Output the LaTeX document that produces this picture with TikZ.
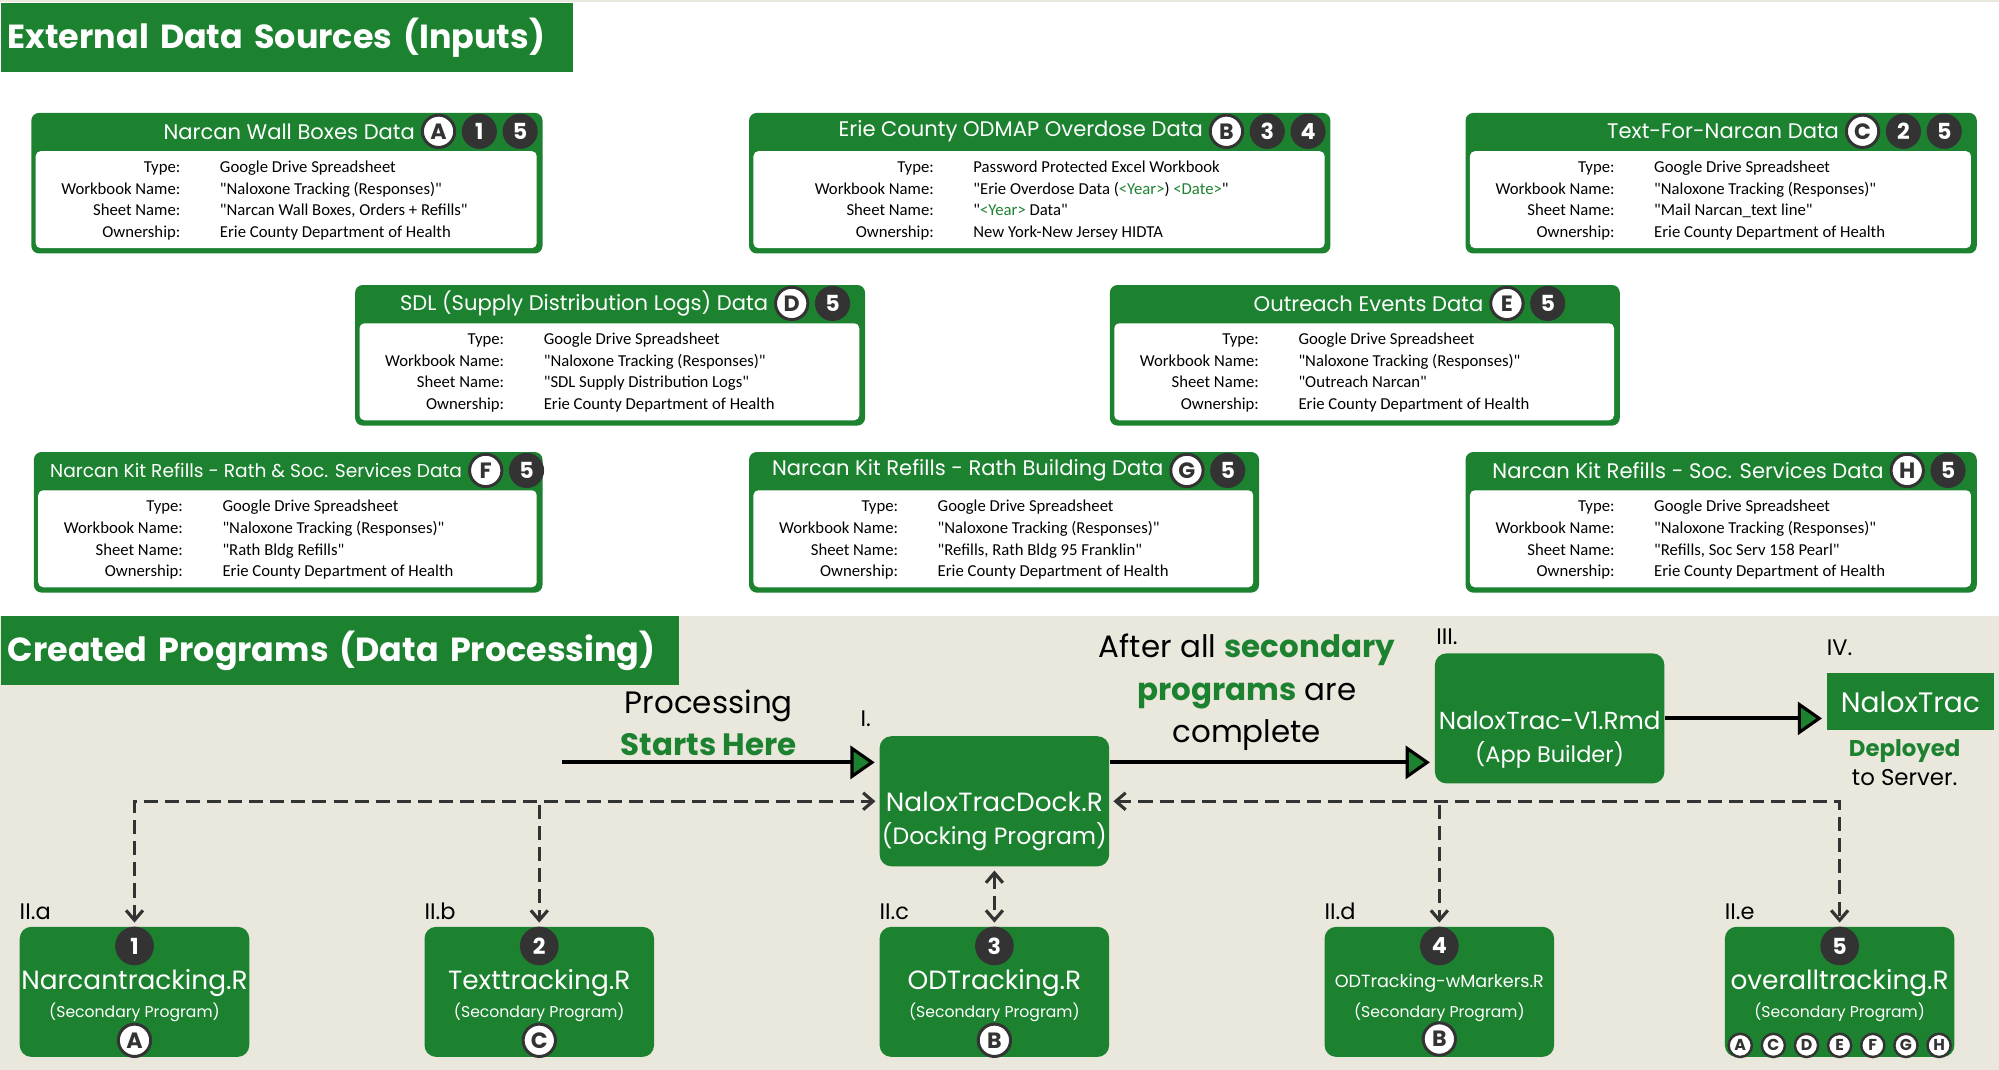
\documentclass[tikz,border=0pt]{standalone}
\usepackage{fontspec}
\setmainfont{Poppins}
\newfontfamily\sheetfont{Carlito}
\usepackage{xcolor}
\usepackage{tikz}
\usetikzlibrary{arrows.meta,positioning}

\definecolor{nxgreen}{HTML}{1C8230}
\definecolor{nxdark}{HTML}{333333}
\definecolor{nxbeige}{HTML}{EAE7DC}

% one picture unit = one pixel of the sketch
\newcommand{\pxu}{0.3627pt}

% input sheet card: [label column] name, corner, width, letter x, title, letter, numbers, values
\newcommand{\srcbox}[9][118]{%
  \begin{scope}[shift={#3}]
    \node[src frame,minimum width=#4*\pxu] (#2) at (0,0) {};
    \node[src body,minimum width=#4*\pxu-8*\pxu] (#2-body) at (#4/2,30) {};
    \node[letter badge] (#2-l) at (#5,15) {#7};
    \foreach \nb [count=\i] in {#8}
      \node[num badge] (#2-n\i) at (#5+\i*32,15) {\nb};
    \node[src title] (#2-title) at (#5-18,15) {#6};
    \node[src label] (#2-lab) at (#1,35) {\strut Type:\\Workbook Name:\\Sheet Name:\\Ownership:};
    \node[src value] (#2-val) at (#1+30,35) {\strut #9};
  \end{scope}}

% secondary program card: name, x, number, file, tag
\newcommand{\secbox}[5]{%
  \node[prog box] (#1) at (#2,778) {};
  \node[tag] (#1-tag) at ([yshift=1.8pt]#1.north west) {#5};
  \node[big num] (#1-n) at (#2,742) {#3};
  \node[prog name] (#1-name) at (#2,771) {#4};
  \node[prog sub] (#1-sub) at (#2,794) {(Secondary Program)};}

\begin{document}
\begin{tikzpicture}[x=\pxu,y=-\pxu,
  section bar/.style={fill=nxgreen,anchor=north west,minimum height=19.6pt,inner xsep=2pt,align=left,text=white,font=\fontsize{9.5}{11}\selectfont\bfseries},
  src frame/.style={fill=nxgreen,rounded corners=2.2pt,anchor=north west,minimum height=40pt,inner sep=0pt},
  src body/.style={fill=white,rounded corners=1.4pt,anchor=north,minimum height=27.6pt,inner sep=0pt},
  src title/.style={anchor=east,inner sep=0pt,text=white,font=\fontsize{6}{7}\selectfont},
  src label/.style={anchor=north east,inner sep=0pt,align=right,font=\sheetfont\fontsize{4.75}{6.15}\selectfont},
  src value/.style={anchor=north west,inner sep=0pt,align=left,font=\sheetfont\fontsize{4.75}{6.15}\selectfont},
  letter badge/.style={circle,fill=white,draw=nxdark,line width=0.85pt,minimum size=9.2pt,inner sep=0pt,text=nxdark,font=\fontsize{6.3}{7}\selectfont\bfseries},
  num badge/.style={circle,fill=nxdark,minimum size=10pt,inner sep=0pt,text=white,font=\fontsize{6.3}{7}\selectfont\bfseries},
  prog box/.style={fill=nxgreen,rounded corners=3.3pt,minimum width=65.3pt,minimum height=37pt,inner sep=0pt},
  prog name/.style={inner sep=0pt,text=white,font=\fontsize{7.5}{9}\selectfont},
  prog sub/.style={inner sep=0pt,text=white,font=\fontsize{4.45}{6}\selectfont},
  big num/.style={circle,fill=nxdark,minimum size=11pt,inner sep=0pt,text=white,font=\fontsize{6.3}{7}\selectfont\bfseries},
  big letter/.style={circle,fill=white,draw=nxdark,line width=0.85pt,minimum size=9.2pt,inner sep=0pt,text=nxdark,font=\fontsize{6.3}{7}\selectfont\bfseries},
  small letter/.style={circle,fill=white,draw=nxdark,line width=0.7pt,minimum size=6.6pt,inner sep=0pt,text=nxdark,font=\fontsize{4.5}{5}\selectfont\bfseries},
  tag/.style={anchor=base west,inner sep=0pt,font=\fontsize{6.4}{7}\selectfont},
  note/.style={align=center,inner sep=0pt,font=\fontsize{8.8}{12}\selectfont},
  flow/.style={draw=black,line width=1.1pt,-{Triangle[length=6.9pt,width=9.4pt,fill=nxgreen,line width=0.9pt]},shorten >=1.2pt},
  link/.style={draw=nxdark,line width=0.9pt,dash pattern=on 4pt off 2pt,>={Straight Barb[length=2.8pt,width=4.8pt]},shorten >=1pt,shorten <=1pt}]

  \useasboundingbox (0,0) rectangle (1568,839);
  \fill[white] (0,0) rectangle (1568,483);
  \fill[nxbeige] (0,0) rectangle (1568,1.5);
  \fill[nxbeige] (0,483) rectangle (1568,839);

  % inputs
  \node[section bar,text width=158.9pt] (inputs) at (0,2) {External Data Sources (Inputs)};

  \srcbox{wall}{(24,88)}{401}{320}{Narcan Wall Boxes Data}{A}{1,5}
    {Google Drive Spreadsheet\\"Naloxone Tracking (Responses)"\\"Narcan Wall Boxes, Orders + Refills"\\Erie County Department of Health}
  \srcbox[146]{odmap}{(587,88)}{456}{375}{Erie County ODMAP Overdose Data}{B}{3,4}
    {Password Protected Excel Workbook\\"Erie Overdose Data (\textcolor{nxgreen}{<Year>}) \textcolor{nxgreen}{<Date>}"\\"\textcolor{nxgreen}{<Year>} Data"\\New York-New Jersey HIDTA}
  \srcbox{textline}{(1149,88)}{401}{312}{Text-For-Narcan Data}{C}{2,5}
    {Google Drive Spreadsheet\\"Naloxone Tracking (Responses)"\\"Mail Narcan\_text line"\\Erie County Department of Health}
  \srcbox{sdl}{(278,223)}{400}{343}{SDL (Supply Distribution Logs) Data}{D}{5}
    {Google Drive Spreadsheet\\"Naloxone Tracking (Responses)"\\"SDL Supply Distribution Logs"\\Erie County Department of Health}
  \srcbox{outreach}{(870,223)}{400}{312}{Outreach Events Data}{E}{5}
    {Google Drive Spreadsheet\\"Naloxone Tracking (Responses)"\\"Outreach Narcan"\\Erie County Department of Health}
  \srcbox{rathsoc}{(26,354)}{399}{355}{\fontsize{5.3}{6}\selectfont Narcan Kit Refills - Rath \& Soc. Services Data}{F}{5}
    {Google Drive Spreadsheet\\"Naloxone Tracking (Responses)"\\"Rath Bldg Refills"\\Erie County Department of Health}
  \srcbox{rath}{(587,354)}{400}{344}{Narcan Kit Refills - Rath Building Data}{G}{5}
    {Google Drive Spreadsheet\\"Naloxone Tracking (Responses)"\\"Refills, Rath Bldg 95 Franklin"\\Erie County Department of Health}
  \srcbox{soc}{(1149,354)}{401}{347}{Narcan Kit Refills - Soc. Services Data}{H}{5}
    {Google Drive Spreadsheet\\"Naloxone Tracking (Responses)"\\"Refills, Soc Serv 158 Pearl"\\Erie County Department of Health}

  % programs
  \node[section bar,text width=189pt] (programs) at (0,483) {Created Programs (Data Processing)};

  \node[prog box] (dock) at (780,628.5) {};
  \node[tag] (dock-tag) at ([xshift=-5.4pt,yshift=2.5pt]dock.north west) {I.};
  \node[prog name] (dock-name) at (780,629) {NaloxTracDock.R};
  \node[prog name,font=\fontsize{6.7}{8}\selectfont] (dock-sub) at (780,656) {(Docking Program)};

  \node[prog box] (app) at (1215.5,563.5) {};
  \node[tag] (app-tag) at ([xshift=0.4pt,yshift=2.2pt]app.north west) {III.};
  \node[prog name,font=\fontsize{7}{8}\selectfont] (app-name) at (1215.5,565) {NaloxTrac-V1.Rmd};
  \node[prog name,font=\fontsize{6.4}{8}\selectfont] (app-sub) at (1215.5,592) {(App Builder)};

  \node[fill=nxgreen,minimum width=47.5pt,minimum height=16.3pt,inner sep=0pt,text=white,font=\fontsize{8}{9}\selectfont] (deploy) at (1498.5,550.5) {NaloxTrac};
  \node[tag] (deploy-tag) at ([yshift=4.7pt]deploy.north west) {IV.};
  \node[note,font=\fontsize{6.5}{8.3}\selectfont] (deploy-note) at (1494,598.5) {{\color{nxgreen}\bfseries Deployed}\\to Server.};

  \node[note] (start-note) at (556,567) {Processing\\{\color{nxgreen}\bfseries Starts Here}};
  \node[note] (done-note) at (978,543) {After all {\color{nxgreen}\bfseries secondary}\\{\color{nxgreen}\bfseries programs} are\\complete};

  \secbox{sec1}{105.5}{1}{Narcantracking.R}{II.a}
  \secbox{sec2}{423}{2}{Texttracking.R}{II.b}
  \secbox{sec3}{780}{3}{ODTracking.R}{II.c}
  \secbox{sec4}{1129}{4}{\fontsize{5}{6}\selectfont ODTracking-wMarkers.R}{II.d}
  \secbox{sec5}{1443}{5}{overalltracking.R}{II.e}
  \node[big letter] (sec1-l) at (105.5,816) {A};
  \node[big letter] (sec2-l) at (423,816) {C};
  \node[big letter] (sec3-l) at (780,816) {B};
  \node[big letter] (sec4-l) at (1129,815) {B};
  \foreach \lt [count=\i from -3] in {A,C,D,E,F,G,H}
    \node[small letter] (sec5-\lt) at (1443+\i*26,820) {\lt};

  % connectors
  \coordinate (go) at (441,598);
  \draw[flow] (go) -- (go -| dock.west);
  \draw[flow] (dock.east |- go) -- (app.west |- go);
  \draw[flow] (app.east) -- (app.east -| deploy.west);

  \draw[link,<->] (sec1.north) |- (dock.west);
  \draw[link,->] (sec2.north |- dock.west) -- (sec2.north);
  \draw[link,<->] (dock.east) -| (sec5.north);
  \draw[link,->] (sec4.north |- dock.east) -- (sec4.north);
  \draw[link,<->] (dock.south) -- (sec3.north);
\end{tikzpicture}
\end{document}
